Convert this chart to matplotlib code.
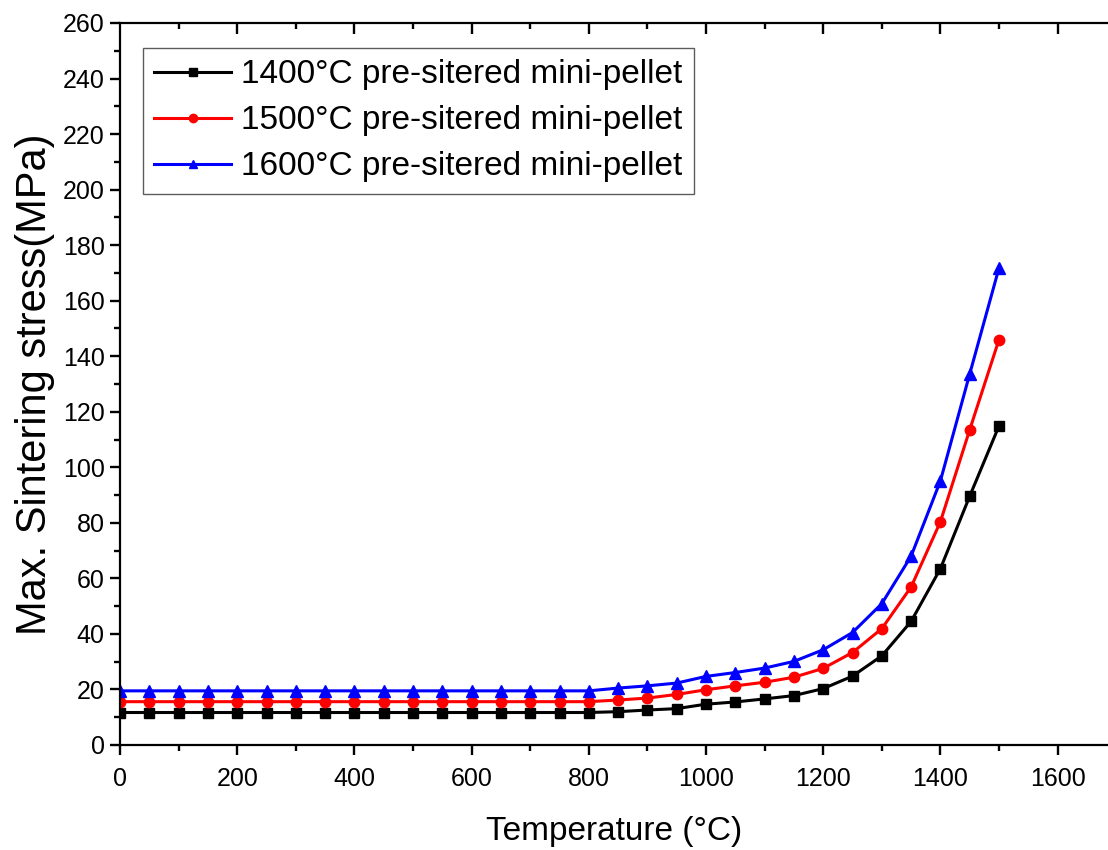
import matplotlib
matplotlib.use("Agg")
import matplotlib.pyplot as plt
from matplotlib.ticker import MultipleLocator

plt.rcParams['font.family'] = ['Liberation Sans', 'DejaVu Sans']

temperature = list(range(0, 1501, 50))

s1400 = [11.7]*17 + [12.0, 12.6, 13.1, 14.7, 15.5, 16.6, 17.8, 20.3, 24.8,
                     32.1, 44.5, 63.5, 89.6, 114.9]
s1500 = [15.6]*17 + [16.2, 16.9, 18.2, 19.9, 21.3, 22.6, 24.4, 27.6, 33.3,
                     41.9, 56.9, 80.4, 113.5, 146.0]
s1600 = [19.5]*17 + [20.5, 21.3, 22.3, 24.7, 26.1, 27.7, 30.1, 34.3, 40.5,
                     50.9, 68.0, 95.1, 133.6, 171.8]

labels = ['1400\u00b0C pre-sitered mini-pellet',
          '1500\u00b0C pre-sitered mini-pellet',
          '1600\u00b0C pre-sitered mini-pellet']

fig = plt.figure(figsize=(11.08, 8.5), dpi=100)
ax = fig.add_axes([120/1108, 105/850, 988/1108, 722/850])

ax.plot(temperature, s1400, color='black', marker='s', ms=6.5, lw=2.2, label=labels[0])
ax.plot(temperature, s1500, color='red', marker='o', ms=7.5, lw=2.2, label=labels[1])
ax.plot(temperature, s1600, color='blue', marker='^', ms=8, lw=2.2, label=labels[2])

ax.set_xlim(0, 1686)
ax.set_ylim(0, 260)
ax.xaxis.set_major_locator(MultipleLocator(200))
ax.xaxis.set_minor_locator(MultipleLocator(100))
ax.yaxis.set_major_locator(MultipleLocator(20))
ax.yaxis.set_minor_locator(MultipleLocator(10))

for s in ['left', 'bottom', 'top']:
    ax.spines[s].set_linewidth(1.6)
ax.spines['right'].set_visible(False)

ax.tick_params(axis='both', which='major', direction='out', length=7.5, width=1.7,
               labelsize=18, right=False, top=False)
ax.tick_params(axis='both', which='minor', direction='out', length=4.5, width=1.7,
               right=False, top=False)
ax.tick_params(axis='x', which='major', pad=8)

# inward ticks along the top border, at the axis' own tick locations
xmin, xmax = ax.get_xlim()
major_locs = [v for v in ax.xaxis.get_majorticklocs() if xmin < v <= xmax]
minor_locs = [v for v in ax.xaxis.get_minorticklocs() if xmin < v <= xmax]
axes_h_px = 722.0
tx = ax.get_xaxis_transform()
ax.vlines(major_locs, 1 - 11 / axes_h_px, 1, transform=tx, colors='black',
          linewidth=1.7, clip_on=False, zorder=5)
ax.vlines(minor_locs, 1 - 6 / axes_h_px, 1, transform=tx, colors='black',
          linewidth=1.7, clip_on=False, zorder=5)

ax.set_xlabel('Temperature (\u00b0C)', fontsize=24, labelpad=18)
ax.set_ylabel('Max. Sintering stress(MPa)', fontsize=30, labelpad=6)

leg = ax.legend(loc='upper left', bbox_to_anchor=(0.023, 0.966), borderaxespad=0,
                fontsize=24, frameon=True, fancybox=False, edgecolor='#333333',
                handlelength=2.3, handletextpad=0.3, labelspacing=0.45,
                borderpad=0.35, markerscale=0.8)
leg.get_frame().set_linewidth(1.0)

fig.savefig('out.png', dpi=100)
